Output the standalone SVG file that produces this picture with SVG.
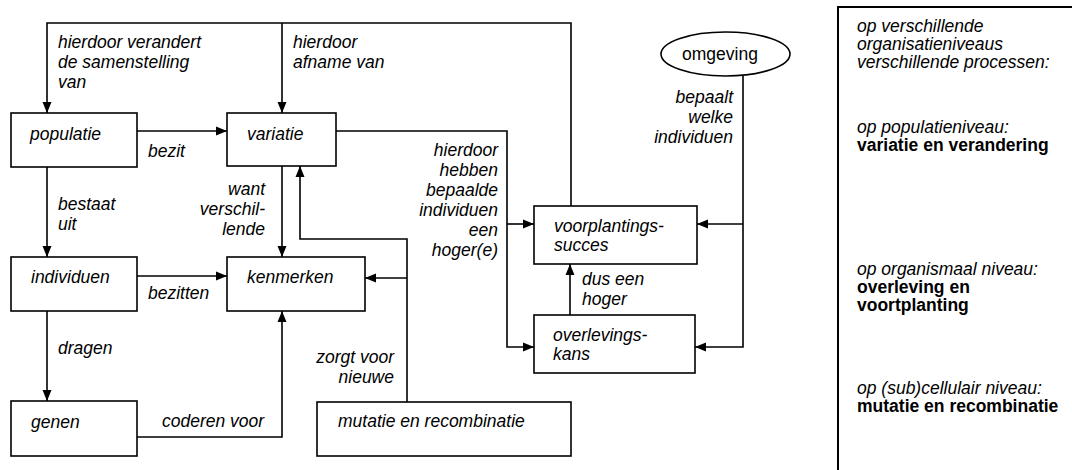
<svg xmlns="http://www.w3.org/2000/svg" width="1072" height="470" viewBox="0 0 1072 470">
<style>
  .box { fill: #fff; stroke: #000; stroke-width: 1.6; }
  .ln { fill: none; stroke: #000; stroke-width: 1.6; }
  .t { font-family: "Liberation Sans", Arial, sans-serif; font-size: 17.5px; font-style: italic; fill: #000; }
  .n { font-family: "Liberation Sans", Arial, sans-serif; font-size: 17.5px; fill: #000; }
  .b { font-family: "Liberation Sans", Arial, sans-serif; font-size: 17.5px; font-weight: bold; fill: #000; }
  .r { text-anchor: end; }
</style>
<defs>
  <marker id="ah" markerUnits="userSpaceOnUse" markerWidth="11" markerHeight="10" refX="11" refY="5" orient="auto">
    <path d="M0,0.5 L11,5 L0,9.5 z" fill="#000"/>
  </marker>
</defs>
<rect width="1072" height="470" fill="#fff"/>

<g id="connectors">
  <path class="ln" d="M571,206 V23 H47 V113" marker-end="url(#ah)"/>
  <path class="ln" d="M282,23 V113" marker-end="url(#ah)"/>
  <path class="ln" d="M137,131 H227" marker-end="url(#ah)"/>
  <path class="ln" d="M282,166 V257" marker-end="url(#ah)"/>
  <path class="ln" d="M47,167 V257" marker-end="url(#ah)"/>
  <path class="ln" d="M137,276 H227" marker-end="url(#ah)"/>
  <path class="ln" d="M47,311 V401" marker-end="url(#ah)"/>
  <path class="ln" d="M137,437 H282 V311" marker-end="url(#ah)"/>
  <path class="ln" d="M407,402 V239 H300 V166" marker-end="url(#ah)"/>
  <path class="ln" d="M407,278 H365" marker-end="url(#ah)"/>
  <path class="ln" d="M336,131 H507 V347 H534" marker-end="url(#ah)"/>
  <path class="ln" d="M507,224 H534" marker-end="url(#ah)"/>
  <path class="ln" d="M570,315 V264" marker-end="url(#ah)"/>
  <path class="ln" d="M743,76 V347 H695" marker-end="url(#ah)"/>
  <path class="ln" d="M743,224 H697" marker-end="url(#ah)"/>
  <g id="connector-labels">
    <text class="t" x="58" y="48">hierdoor verandert</text>
    <text class="t" x="58" y="68">de samenstelling</text>
    <text class="t" x="58" y="88">van</text>
    <text class="t" x="293" y="48">hierdoor</text>
    <text class="t" x="293" y="68">afname van</text>
    <text class="t" x="148" y="157">bezit</text>
    <text class="t" x="58" y="210">bestaat</text>
    <text class="t" x="58" y="230">uit</text>
    <text class="t r" x="265" y="195">want</text>
    <text class="t r" x="265" y="215">verschil-</text>
    <text class="t r" x="265" y="235">lende</text>
    <text class="t" x="148" y="299">bezitten</text>
    <text class="t" x="58" y="354">dragen</text>
    <text class="t" x="162" y="427">coderen voor</text>
    <text class="t r" x="394" y="363">zorgt voor</text>
    <text class="t r" x="394" y="383">nieuwe</text>
    <text class="t r" x="498" y="156">hierdoor</text>
    <text class="t r" x="498" y="176">hebben</text>
    <text class="t r" x="498" y="196">bepaalde</text>
    <text class="t r" x="498" y="216">individuen</text>
    <text class="t r" x="498" y="236">een</text>
    <text class="t r" x="498" y="256">hoger(e)</text>
    <text class="t r" x="733" y="103">bepaalt</text>
    <text class="t r" x="733" y="123">welke</text>
    <text class="t r" x="733" y="143">individuen</text>
    <text class="t" x="582" y="285">dus een</text>
    <text class="t" x="582" y="305">hoger</text>
  </g>
</g>

<g id="populatie"><rect class="box" x="11" y="113" width="126" height="54"/><text class="t" x="30" y="140">populatie</text></g>
<g id="variatie"><rect class="box" x="227" y="113" width="109" height="53"/><text class="t" x="247" y="140">variatie</text></g>
<g id="individuen"><rect class="box" x="11" y="257" width="126" height="54"/><text class="t" x="31" y="283">individuen</text></g>
<g id="kenmerken"><rect class="box" x="227" y="257" width="138" height="54"/><text class="t" x="247" y="283">kenmerken</text></g>
<g id="genen"><rect class="box" x="11" y="401" width="126" height="55"/><text class="t" x="31" y="428">genen</text></g>
<g id="mutatie"><rect class="box" x="317" y="402" width="254" height="54"/><text class="t" x="338" y="427">mutatie en recombinatie</text></g>
<g id="voorplantingssucces"><rect class="box" x="534" y="206" width="163" height="58"/><text class="t" x="554" y="232">voorplantings-</text><text class="t" x="554" y="251">succes</text></g>
<g id="overlevingskans"><rect class="box" x="534" y="315" width="161" height="58"/><text class="t" x="553" y="341">overlevings-</text><text class="t" x="553" y="360">kans</text></g>
<g id="omgeving"><ellipse class="box" cx="725.5" cy="54" rx="64.5" ry="22"/><text class="n" x="720" y="60" text-anchor="middle">omgeving</text></g>

<g id="legend">
  <rect x="838" y="7" width="260" height="480" fill="none" stroke="#000" stroke-width="2"/>
  <text class="t" x="857" y="32">op verschillende</text>
  <text class="t" x="857" y="50">organisatieniveaus</text>
  <text class="t" x="857" y="68">verschillende processen:</text>
  <text class="t" x="857" y="133">op populatieniveau:</text>
  <text class="b" x="857" y="151">variatie en verandering</text>
  <text class="t" x="857" y="275">op organismaal niveau:</text>
  <text class="b" x="857" y="293">overleving en</text>
  <text class="b" x="857" y="311">voortplanting</text>
  <text class="t" x="857" y="394">op (sub)cellulair niveau:</text>
  <text class="b" x="857" y="412">mutatie en recombinatie</text>
</g>
</svg>
